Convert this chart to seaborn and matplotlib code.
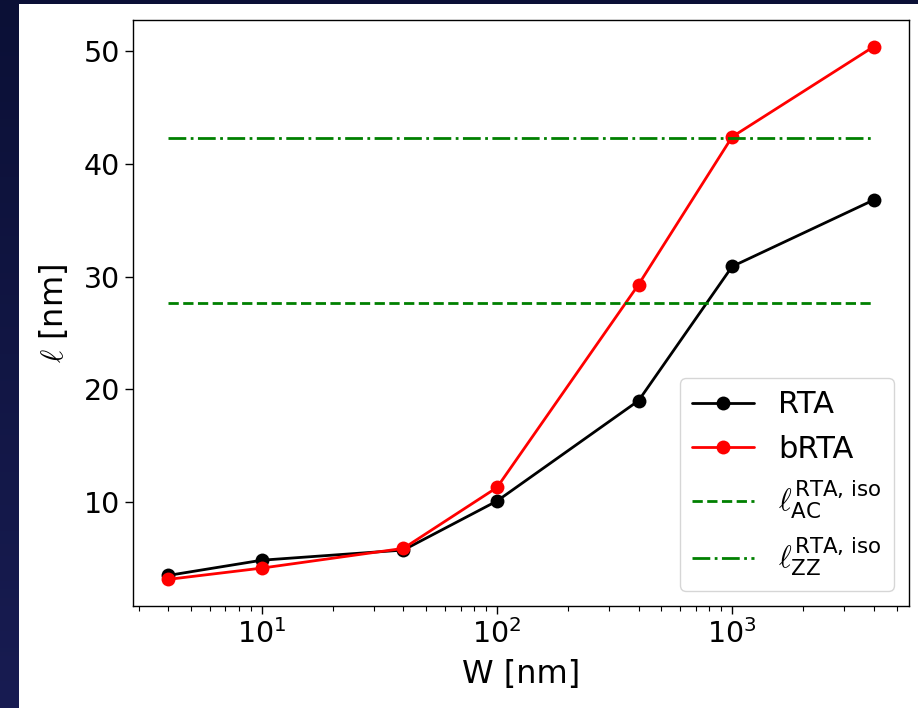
import numpy as np
import pandas as pd
import matplotlib
matplotlib.use("Agg")
import matplotlib.pyplot as plt
from matplotlib.patches import Rectangle
import seaborn as sns

# dados
W = [4, 10, 40, 100, 400, 1000, 4000]
ell_rta = [3.5, 4.85, 5.75, 10.1, 19.0, 30.9, 36.8]
ell_brta = [3.15, 4.15, 5.9, 11.3, 29.3, 42.4, 50.4]
ell_ac_iso = 27.7
ell_zz_iso = 42.3

sns.set_style("ticks")
plt.rcParams.update({
    "font.family": ["DejaVu Sans"],
    "mathtext.fontset": "cm",
    "text.color": "black",
    "axes.labelcolor": "black",
    "axes.edgecolor": "black",
    "xtick.color": "black",
    "ytick.color": "black",
    "axes.linewidth": 1.0,
})

fig = plt.figure(figsize=(9.18, 7.08), dpi=100)

# fundo do slide (gradiente azul escuro) + área branca da figura
bg = fig.add_axes([0, 0, 1, 1], zorder=-10)
grad = np.linspace(0, 1, 256).reshape(-1, 1)
cmap = matplotlib.colors.LinearSegmentedColormap.from_list("slide", ["#0b1036", "#181c52"])
bg.imshow(grad, aspect="auto", cmap=cmap, extent=[0, 1, 0, 1], origin="upper")
bg.add_patch(Rectangle((19 / 918, 0), 1, 1 - 4 / 708, facecolor="white", edgecolor="none"))
bg.set_axis_off()

ax = fig.add_axes([133 / 918, 1 - 606 / 708, (909 - 133) / 918, (606 - 20) / 708])
ax.set_xscale("log")

df_rta = pd.DataFrame({"W": W, "ell": ell_rta})
df_brta = pd.DataFrame({"W": W, "ell": ell_brta})

sns.lineplot(data=df_rta, x="W", y="ell", color="black", marker="o", markersize=10,
             markeredgewidth=0, linewidth=2, label="RTA", ax=ax)
sns.lineplot(data=df_brta, x="W", y="ell", color="red", marker="o", markersize=10,
             markeredgewidth=0, linewidth=2, label="bRTA", ax=ax)
ax.plot([W[0], W[-1]], [ell_ac_iso, ell_ac_iso], color="green", linestyle="--", linewidth=2,
        label=r"$\ell_{\mathregular{AC}}^{\mathregular{RTA,\,iso}}$")
ax.plot([W[0], W[-1]], [ell_zz_iso, ell_zz_iso], color="green", linestyle="-.", linewidth=2,
        label=r"$\ell_{\mathregular{ZZ}}^{\mathregular{RTA,\,iso}}$")

ax.set_yticks([10, 20, 30, 40, 50])
ax.tick_params(axis="both", which="major", labelsize=20.5, length=6, width=1)
ax.tick_params(axis="x", which="minor", length=3.5, width=0.8)
ax.set_xlabel("W [nm]", fontsize=23, labelpad=7)
ax.set_ylabel(r"$\ell$ [nm]", fontsize=23, labelpad=10)

ax.legend(loc="lower right", fontsize=22, handlelength=2.0)

plt.savefig("out.png", dpi=100)
